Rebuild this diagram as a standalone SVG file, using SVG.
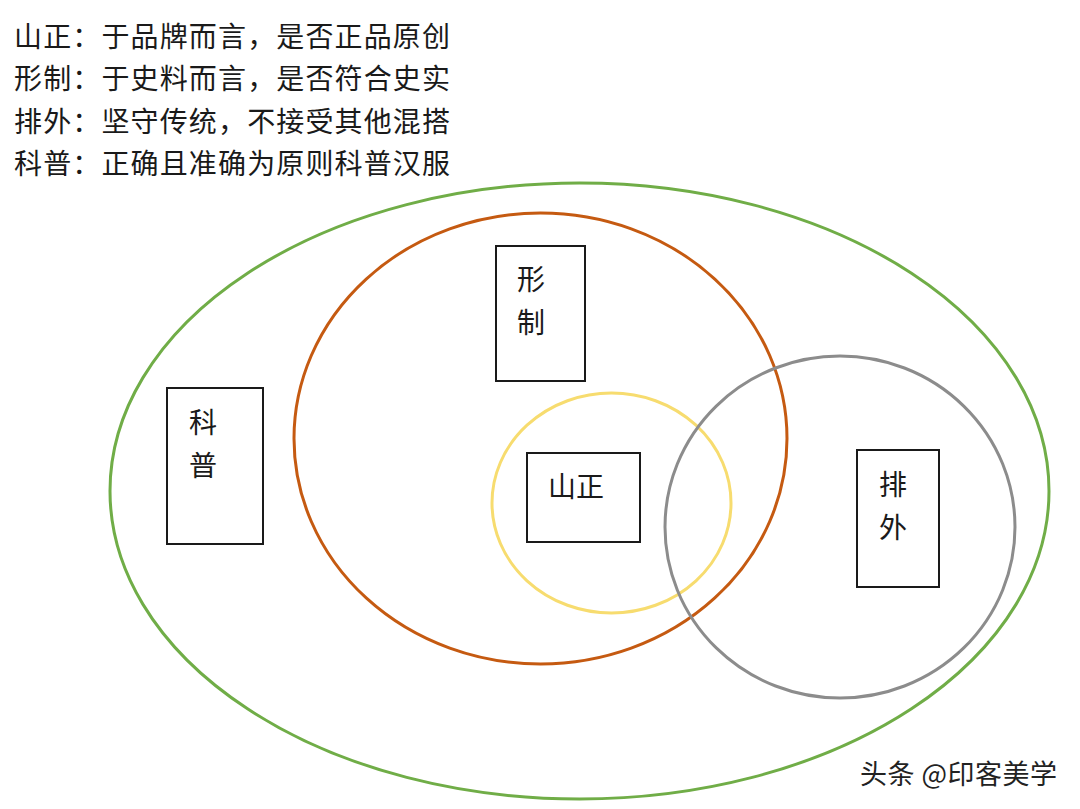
<svg xmlns="http://www.w3.org/2000/svg" width="1080" height="809" viewBox="0 0 1080 809">
<style>
.t{font-family:"Liberation Serif","Noto Sans CJK SC",serif;font-size:28px;fill:#1a1a1a}
.box{fill:#fff;stroke:#1a1a1a;stroke-width:2}
.c{fill:none;stroke-width:3}
.wm{font-family:"Noto Sans CJK SC",sans-serif;font-size:27px;fill:#222}
</style>
<rect width="1080" height="809" fill="#fff"/>
<g id="legend">
<text class="t" x="14" y="47" textLength="436">山正：于品牌而言，是否正品原创</text>
<text class="t" x="14" y="89" textLength="436">形制：于史料而言，是否符合史实</text>
<text class="t" x="14" y="132" textLength="436">排外：坚守传统，不接受其他混搭</text>
<text class="t" x="14" y="174" textLength="436">科普：正确且准确为原则科普汉服</text>
</g>
<g id="sets">
<ellipse id="set-kepu" class="c" cx="579.5" cy="491" rx="469.5" ry="308" stroke="#70AD47"/>
<ellipse id="set-xingzhi" class="c" cx="540.5" cy="438.5" rx="246.5" ry="225.5" stroke="#C55A11"/>
<ellipse id="set-shanzheng" class="c" cx="611.5" cy="503" rx="119.5" ry="110" stroke="#F7DC6F"/>
<ellipse id="set-paiwai" class="c" cx="840" cy="527" rx="175" ry="171" stroke="#8C8C8C"/>
</g>
<g id="connectors"></g>
<g id="node-xingzhi">
<rect class="box" x="496" y="246" width="89" height="135"/>
<text class="t" x="517" y="290">形</text>
<text class="t" x="517" y="333">制</text>
</g>
<g id="node-kepu">
<rect class="box" x="167" y="388" width="96" height="156"/>
<text class="t" x="189" y="433">科</text>
<text class="t" x="189" y="476">普</text>
</g>
<g id="node-shanzheng">
<rect class="box" x="527" y="453" width="113" height="89"/>
<text class="t" x="548" y="497">山正</text>
</g>
<g id="node-paiwai">
<rect class="box" x="857" y="450" width="82" height="137"/>
<text class="t" x="879" y="495">排</text>
<text class="t" x="879" y="538">外</text>
</g>
<g id="watermark">
<text class="wm" x="860" y="784" textLength="197">头条 @印客美学</text>
</g>
</svg>
